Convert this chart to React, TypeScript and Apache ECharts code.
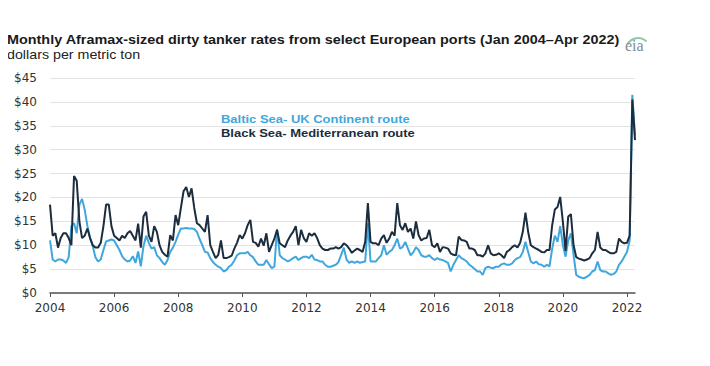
import React, { useEffect, useRef } from "react";
import * as echarts from "echarts";

const TITLE = "Monthly Aframax-sized dirty tanker rates from select European ports (Jan 2004\u2013Apr 2022)";
const SUBTITLE = "dollars per metric ton";
const SERIES_NAMES = ["Baltic Sea- UK Continent route", "Black Sea- Mediterranean route"];
const START_YEAR = 2004;
const X_TICKS = [2004, 2006, 2008, 2010, 2012, 2014, 2016, 2018, 2020, 2022];
const Y_TICKS = [0, 5, 10, 15, 20, 25, 30, 35, 40, 45];

// Black Sea - Mediterranean (monthly, Jan 2004 - Apr 2022)
const blackSea = [
  18.5, 12, 12.5, 9.5, 11.5, 12.5, 12.5, 11.5, 10, 24.5, 23.5, 15,
  11.5, 12, 13.5, 11.5, 10, 9.5, 9.5, 10.5, 14, 18.5, 18.5, 14,
  12, 11.5, 11, 12, 11.5, 12.5, 13, 12, 11, 14.5, 9.5, 16,
  17, 12, 10.7, 14, 12.8, 10, 8.6, 8, 7.6, 12.1, 11, 16.3,
  14.2, 17.8, 21.3, 22.2, 20.1, 21.9, 17.8, 14.6, 14.2, 13.5, 12.8, 16.3,
  10, 8.6, 7.3, 8, 11, 7.3, 7.3, 7.5, 7.8, 9.3, 10.5, 12.1,
  11.4, 12.5, 14.2, 15.3, 10.7, 10.5, 9.7, 11.4, 9.9, 12.5, 8.6, 10,
  11.4, 13.2, 10.4, 10, 9.6, 11, 12, 12.8, 14, 10, 13.2, 11.5,
  10.7, 12.5, 12, 12.5, 11.5, 10, 9.3, 9, 9, 9.3, 9.3, 9.6,
  9.3, 9.6, 10.4, 10, 9.3, 8.4, 8.9, 9.3, 9, 8.6, 10.7, 18.8,
  10.7, 10.4, 10.4, 10, 11.4, 12.1, 10.5, 11.4, 12.8, 12, 18.8, 14.2,
  13.2, 14.6, 12.8, 13.5, 11.4, 15, 12.1, 11, 11.4, 11.5, 13.2, 10,
  9.6, 10.4, 8.6, 9.6, 9.5, 9.3, 8.3, 8, 7.9, 11.8, 11.1, 11,
  10.7, 9.3, 9.3, 9, 7.9, 7.9, 7.6, 8.3, 10, 8.3, 7.9, 8,
  8.3, 7.9, 7.3, 8.6, 9, 9.6, 10, 9.5, 10.5, 12.8, 16.8, 12.8,
  10, 9.6, 9.3, 9, 8.6, 8.5, 9, 9, 14.2, 17.5, 18, 20.1,
  14.9, 8.8, 16, 16.5, 10, 7.5, 7.2, 7, 6.8, 7, 7.3, 8.3,
  9, 12.8, 9.5, 9, 9, 8.6, 8.3, 8.3, 8.6, 11.4, 10.7, 10.4,
  10.5, 12, 40.5, 32,
];

// Baltic Sea - UK Continent (monthly, Jan 2004 - Apr 2022)
const baltic = [
  11, 7, 6.6, 7, 7, 6.8, 6.3, 7.5, 14, 14.6, 12.5, 18.5,
  19.7, 17.4, 14, 11.5, 9.8, 7.5, 6.6, 7, 9, 10.8, 11, 11.2,
  11, 10, 9, 7.7, 7, 6.6, 6.8, 7.7, 6.3, 8.7, 5.6, 9.8,
  12, 10.5, 9.3, 9.6, 7.9, 7.3, 6.5, 5.9, 6.9, 8.6, 9.5, 10.7,
  12.2, 13.5, 13.5, 13.6, 13.5, 13.5, 13.4, 12.8, 11.3, 10, 8.6, 8.5,
  7.3, 6.5, 5.9, 5.5, 5.2, 4.5, 4.8, 5.5, 5.9, 6.8, 7.9, 8.3,
  8.3, 8.3, 8.6, 7.9, 7.5, 6.6, 5.9, 5.9, 5.9, 6.9, 6, 5.2,
  5.5, 13.4, 7.9, 7.3, 7, 6.6, 6.9, 7.3, 7.6, 6.9, 7.3, 7.6,
  7.6, 7.3, 8, 7, 6.9, 6.6, 6.6, 5.9, 5.5, 5.5, 5.7, 5.9,
  6.5, 8, 9.5, 7, 6.3, 6.6, 6.3, 6.6, 6.3, 6.5, 6.6, 14.6,
  6.6, 6.6, 6.6, 7.3, 7.9, 10, 8, 8.6, 9, 10, 11.4, 9.3,
  9.6, 10.7, 9.3, 7.9, 8.5, 9.6, 9, 7.9, 7.6, 7.6, 7.9, 7.3,
  6.9, 7.3, 7, 6.9, 6.6, 6.3, 4.5, 5.9, 6.9, 7.9, 7.3, 7,
  6.6, 5.9, 5.5, 5, 4.5, 4.5, 3.8, 5.2, 5.5, 5.3, 5.2, 5.5,
  5.5, 6, 6.2, 5.9, 5.9, 6.2, 6.9, 7.3, 7.5, 8.6, 10.7, 8.6,
  6.6, 6.2, 6.6, 6, 5.9, 5.5, 5.9, 5.6, 9.3, 12, 10.7, 14,
  10, 7.6, 11, 12.5, 8, 3.8, 3.4, 3.2, 3.1, 3.4, 3.8, 4.5,
  4.8, 6.6, 4.8, 4.5, 4.5, 4.1, 3.8, 4, 4.5, 5.9, 6.6, 7.6,
  8.6, 11, 41.5, 33,
];

const toPairs = (vals: number[]) => vals.map((v, i) => [START_YEAR + i / 12, v]);

export default function App() {
  const ref = useRef<HTMLDivElement>(null);
  useEffect(() => {
    if (!ref.current) return;
    const chart = echarts.init(ref.current, null, { renderer: "svg" });
    const font = "'Liberation Sans', Arial, sans-serif";
    const axisFont = "'DejaVu Sans', sans-serif";
    const lastX = START_YEAR + (blackSea.length - 1) / 12;
    chart.setOption({
      animation: false,
      backgroundColor: "#ffffff",
      textStyle: { fontFamily: font },
      grid: { left: 50, right: 710 - 635, top: 78, bottom: 366 - 293, containLabel: false },
      xAxis: {
        type: "value",
        min: START_YEAR,
        max: lastX,
        interval: 2,
        axisLine: { show: true, lineStyle: { color: "#555", width: 1.5 } },
        axisTick: { show: true, length: 4, lineStyle: { color: "#555", width: 1 }, customValues: X_TICKS },
        axisLabel: {
          customValues: X_TICKS,
          color: "#333",
          fontSize: 12,
          fontFamily: axisFont,
          margin: 9,
          formatter: (v: number) => String(Math.round(v)),
        },
        splitLine: { show: false },
      },
      yAxis: {
        type: "value",
        min: 0,
        max: 45,
        interval: 5,
        axisLine: { show: false },
        axisTick: { show: false },
        axisLabel: {
          color: "#333",
          fontSize: 12,
          fontFamily: axisFont,
          margin: 13,
          formatter: (v: number) => (Y_TICKS.includes(v) ? "$" + v : ""),
        },
        splitLine: { show: true, lineStyle: { color: "#e3e3e3", width: 1 } },
      },
      series: [
        {
          name: SERIES_NAMES[0],
          type: "line",
          data: toPairs(baltic),
          showSymbol: false,
          lineStyle: { color: "#3fa7dd", width: 2 },
          itemStyle: { color: "#3fa7dd" },
          z: 2,
        },
        {
          name: SERIES_NAMES[1],
          type: "line",
          data: toPairs(blackSea),
          showSymbol: false,
          lineStyle: { color: "#1c2d3e", width: 2 },
          itemStyle: { color: "#1c2d3e" },
          z: 3,
        },
      ],
      graphic: [
        {
          type: "text",
          x: 7,
          y: 40,
          scaleX: 1.2,
          style: { text: TITLE, x: 0, y: 0, verticalAlign: "middle", fontSize: 12, fontWeight: "bold", fill: "#1a1a1a", fontFamily: font },
        },
        {
          type: "text",
          x: 7,
          y: 55,
          scaleX: 1.19,
          style: { text: SUBTITLE, x: 0, y: 0, verticalAlign: "middle", fontSize: 12, fill: "#222", fontFamily: font },
        },
        {
          type: "text",
          x: 221,
          y: 119,
          scaleX: 1.18,
          style: { text: SERIES_NAMES[0], x: 0, y: 0, verticalAlign: "middle", fontSize: 11, fontWeight: "bold", fill: "#3fa7dd", fontFamily: font },
        },
        {
          type: "text",
          x: 221,
          y: 133,
          scaleX: 1.18,
          style: { text: SERIES_NAMES[1], x: 0, y: 0, verticalAlign: "middle", fontSize: 11, fontWeight: "bold", fill: "#1c2d3e", fontFamily: font },
        },
        {
          type: "arc",
          shape: { cx: 638, cy: 50, r: 12, startAngle: Math.PI * 1.15, endAngle: Math.PI * 1.75 },
          style: { stroke: "#8cc9a8", lineWidth: 2, fill: "none" },
        },
        {
          type: "text",
          x: 625,
          y: 45,
          style: { text: "eia", x: 0, y: 0, verticalAlign: "middle", fontSize: 16, fill: "#7f8c99", fontFamily: "'Liberation Serif', serif" },
        },
      ],
    });
    return () => chart.dispose();
  }, []);
  return <div ref={ref} style={{ width: 710, height: 366, margin: -8 }} />;
}
